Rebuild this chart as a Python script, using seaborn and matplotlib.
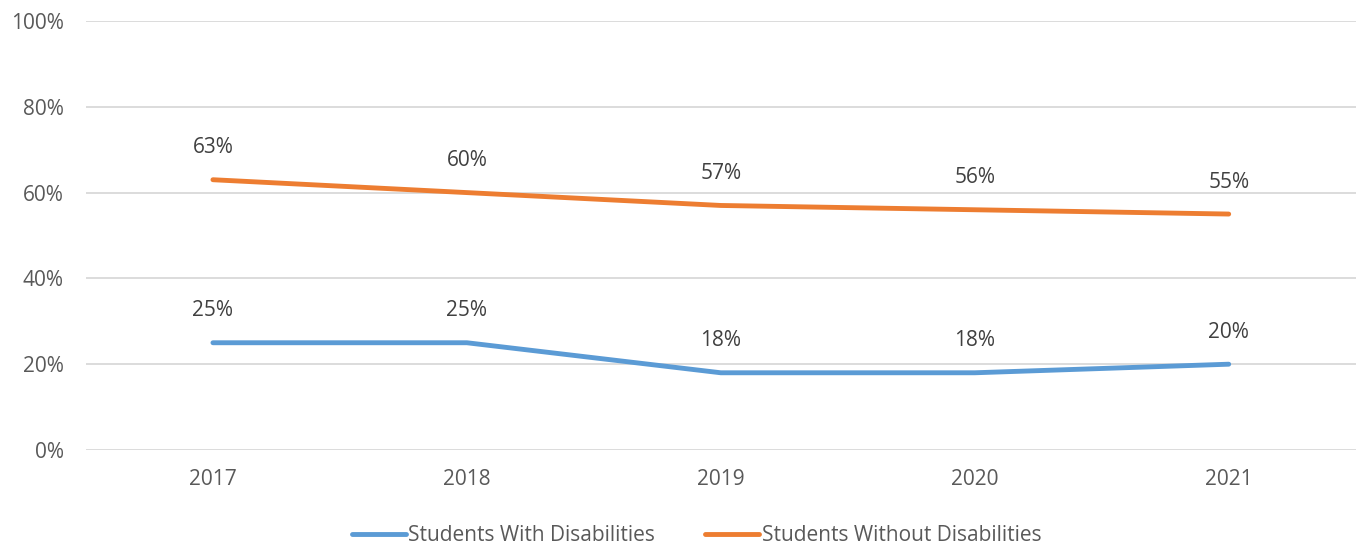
import pandas as pd
import matplotlib.pyplot as plt
import seaborn as sns

# Chart data
years = ["2017", "2018", "2019", "2020", "2021"]
with_dis = [25, 25, 18, 18, 20]
without_dis = [63, 60, 57, 56, 55]

df = pd.DataFrame({
    "year": years * 2,
    "value": with_dis + without_dis,
    "group": ["Students With Disabilities"] * 5 + ["Students Without Disabilities"] * 5,
})

sns.set_style("white")
plt.rcParams['font.family'] = ['Open Sans', 'DejaVu Sans']
text_color = "#595959"

fig = plt.figure(figsize=(13.58, 5.44), dpi=100)
ax = fig.add_axes([0.0633, 0.1728, 0.935, 0.7886])

palette = {"Students With Disabilities": "#5B9BD5",
           "Students Without Disabilities": "#ED7D31"}
sns.lineplot(data=df, x="year", y="value", hue="group", palette=palette,
             linewidth=3.5, ax=ax, sort=False)

# data labels above points
for vals in [with_dis, without_dis]:
    for i, v in enumerate(vals):
        ax.annotate(f"{v}%", (i, v), xytext=(0, 23), textcoords="offset points",
                    ha="center", va="center", fontsize=15, color="#404040")

ax.set_xlim(-0.5, 4.5)
ax.set_ylim(0, 100)
ax.set_yticks(range(0, 101, 20))
ax.set_yticklabels([f"{t}%" for t in range(0, 101, 20)])
ax.yaxis.grid(True, color="#D9D9D9", linewidth=1.3)
ax.set_axisbelow(True)
for s in ax.spines.values():
    s.set_visible(False)
ax.tick_params(axis="both", length=0, labelsize=15, labelcolor=text_color)
ax.tick_params(axis="x", pad=14)
ax.tick_params(axis="y", pad=16)
ax.set_xlabel("")
ax.set_ylabel("")

leg = ax.legend(loc="center", bbox_to_anchor=(0.481, -0.2), ncol=2, frameon=False,
                fontsize=15, handlelength=2.6, handletextpad=0.1, columnspacing=2.4)
for t in leg.get_texts():
    t.set_color(text_color)

plt.savefig("out.png", dpi=100)
